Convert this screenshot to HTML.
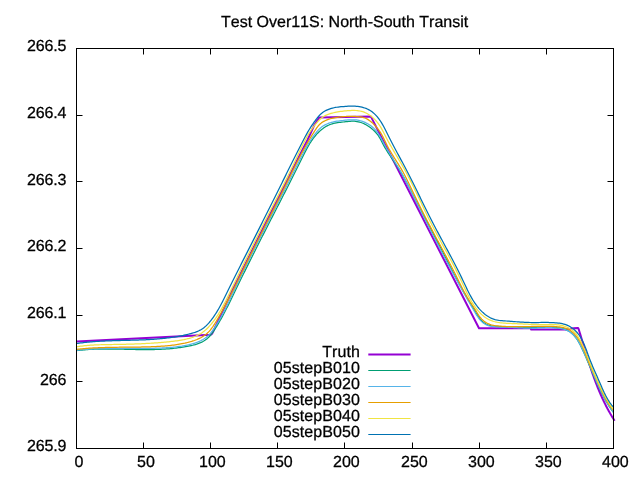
<!DOCTYPE html>
<html lang="en"><head><meta charset="utf-8"><title>Test Over11S: North-South Transit</title>
<style>html,body{margin:0;padding:0;background:#fff;overflow:hidden}body{width:640px;height:480px}</style></head>
<body>
<svg width="640" height="480" viewBox="0 0 640 480" style="display:block">
<rect width="640" height="480" fill="#fff"/>
<path d="M143.50,448.50v-6 M143.50,48.50v6 M210.50,448.50v-6 M210.50,48.50v6 M277.50,448.50v-6 M277.50,48.50v6 M344.50,448.50v-6 M344.50,48.50v6 M412.50,448.50v-6 M412.50,48.50v6 M479.50,448.50v-6 M479.50,48.50v6 M546.50,448.50v-6 M546.50,48.50v6 M76.50,115.50h6 M613.50,115.50h-6 M76.50,181.50h6 M613.50,181.50h-6 M76.50,248.50h6 M613.50,248.50h-6 M76.50,315.50h6 M613.50,315.50h-6 M76.50,381.50h6 M613.50,381.50h-6" stroke="#000" stroke-width="1" fill="none"/>
<g fill="none" stroke-linejoin="round" stroke-linecap="butt">
<path d="M76.50,341.60 L210.75,334.80 L212.30,333.40 L213.90,329.90 L232.50,290.00 L267.15,220.00 L297.30,160.00 L307.50,140.00 L314.30,125.00 L319.30,117.40 L370.80,116.40 L479.00,328.30 L530.60,328.30 L531.20,329.50 L567.00,329.50 L573.50,328.30 L578.10,327.90 L578.66,329.06 L579.02,330.27 L579.39,331.48 L579.76,332.69 L580.12,333.90 L580.49,335.11 L580.85,336.32 L581.21,337.53 L581.58,338.74 L581.94,339.96 L582.30,341.17 L582.66,342.38 L583.03,343.60 L583.39,344.81 L583.75,346.03 L584.12,347.24 L584.48,348.45 L584.85,349.67 L585.22,350.88 L585.59,352.09 L585.96,353.31 L586.33,354.52 L586.70,355.73 L587.08,356.94 L587.46,358.15 L587.83,359.36 L588.22,360.57 L588.60,361.78 L588.99,362.99 L589.37,364.19 L589.77,365.40 L590.16,366.60 L590.56,367.81 L590.96,369.01 L591.36,370.21 L591.77,371.41 L592.18,372.61 L592.60,373.81 L593.02,375.00 L593.44,376.19 L593.87,377.39 L594.30,378.58 L594.74,379.76 L595.18,380.95 L595.62,382.13 L596.07,383.32 L596.53,384.50 L596.99,385.67 L597.46,386.85 L597.93,388.02 L598.40,389.20 L598.89,390.36 L599.38,391.53 L599.87,392.69 L600.37,393.85 L600.88,395.01 L601.39,396.17 L601.91,397.32 L602.44,398.47 L602.98,399.62 L603.52,400.76 L604.06,401.90 L604.62,403.04 L605.18,404.18 L605.75,405.31 L606.33,406.44 L606.92,407.56 L607.51,408.68 L608.12,409.80 L608.73,410.91 L609.35,412.02 L609.97,413.13 L610.61,414.23 L611.25,415.33 L611.91,416.42 L612.57,417.51 L613.24,418.60 L613.93,419.68 L614.62,420.76" stroke="#9400d3" stroke-width="2"/>
<path d="M76.49,350.65 L77.88,350.47 L79.27,350.31 L80.65,350.16 L82.04,350.03 L83.42,349.90 L84.80,349.78 L86.19,349.68 L87.57,349.58 L88.94,349.49 L90.32,349.41 L91.70,349.34 L93.08,349.28 L94.45,349.22 L95.83,349.18 L97.21,349.14 L98.59,349.10 L99.96,349.08 L101.34,349.05 L102.72,349.04 L104.10,349.03 L105.48,349.02 L106.87,349.02 L108.25,349.02 L109.64,349.03 L111.02,349.04 L112.41,349.05 L113.80,349.07 L115.19,349.09 L116.57,349.11 L117.96,349.14 L119.35,349.16 L120.74,349.19 L122.14,349.22 L123.53,349.25 L124.92,349.28 L126.31,349.31 L127.70,349.34 L129.09,349.37 L130.48,349.40 L131.88,349.43 L133.27,349.46 L134.66,349.48 L136.05,349.51 L137.44,349.53 L138.83,349.55 L140.22,349.57 L141.61,349.58 L142.99,349.59 L144.38,349.60 L145.77,349.60 L147.15,349.60 L148.54,349.59 L149.92,349.58 L151.30,349.57 L152.68,349.55 L154.06,349.52 L155.44,349.49 L156.82,349.45 L158.19,349.41 L159.57,349.35 L160.94,349.30 L162.31,349.23 L163.68,349.15 L165.05,349.07 L166.42,348.98 L167.79,348.88 L169.16,348.77 L170.53,348.66 L171.90,348.53 L173.27,348.39 L174.64,348.25 L176.01,348.09 L177.38,347.92 L178.76,347.74 L180.13,347.55 L181.51,347.35 L182.89,347.14 L184.27,346.91 L185.66,346.68 L187.04,346.43 L188.43,346.16 L189.82,345.88 L191.21,345.58 L192.59,345.26 L193.95,344.91 L195.31,344.54 L196.65,344.13 L197.97,343.68 L199.26,343.19 L200.53,342.66 L201.77,342.09 L202.97,341.47 L204.15,340.79 L205.28,340.06 L206.37,339.26 L207.41,338.41 L208.41,337.50 L209.37,336.53 L210.29,335.51 L211.17,334.46 L212.03,333.36 L212.85,332.23 L213.66,331.08 L214.44,329.91 L215.20,328.72 L215.96,327.53 L216.70,326.33 L217.43,325.13 L218.15,323.93 L218.86,322.72 L219.56,321.52 L220.25,320.31 L220.93,319.09 L221.61,317.88 L222.28,316.66 L222.94,315.44 L223.59,314.22 L224.24,313.00 L224.88,311.77 L225.52,310.55 L226.15,309.32 L226.78,308.09 L227.40,306.86 L228.02,305.63 L228.63,304.39 L229.24,303.16 L229.85,301.92 L230.46,300.68 L231.06,299.45 L231.66,298.21 L232.26,296.97 L232.86,295.73 L233.46,294.49 L234.06,293.24 L234.66,292.00 L235.25,290.76 L235.85,289.52 L236.46,288.27 L237.06,287.03 L237.66,285.79 L238.27,284.54 L238.87,283.30 L239.48,282.06 L240.09,280.81 L240.69,279.57 L241.30,278.32 L241.91,277.08 L242.53,275.83 L243.14,274.59 L243.75,273.34 L244.37,272.10 L244.98,270.86 L245.60,269.61 L246.21,268.37 L246.83,267.12 L247.45,265.88 L248.07,264.63 L248.69,263.39 L249.31,262.15 L249.93,260.90 L250.55,259.66 L251.17,258.42 L251.79,257.17 L252.42,255.93 L253.04,254.69 L253.67,253.44 L254.29,252.20 L254.92,250.96 L255.54,249.72 L256.17,248.48 L256.79,247.24 L257.42,246.00 L258.05,244.76 L258.68,243.52 L259.30,242.28 L259.93,241.04 L260.56,239.80 L261.19,238.56 L261.82,237.32 L262.45,236.09 L263.08,234.85 L263.71,233.61 L264.34,232.38 L264.97,231.14 L265.60,229.91 L266.23,228.68 L266.86,227.44 L267.49,226.21 L268.12,224.98 L268.75,223.75 L269.38,222.52 L270.01,221.29 L270.64,220.06 L271.27,218.83 L271.90,217.60 L272.53,216.38 L273.16,215.15 L273.79,213.93 L274.42,212.70 L275.05,211.48 L275.68,210.25 L276.31,209.03 L276.94,207.80 L277.56,206.58 L278.19,205.35 L278.82,204.13 L279.45,202.91 L280.08,201.68 L280.71,200.46 L281.34,199.23 L281.96,198.01 L282.59,196.78 L283.22,195.56 L283.85,194.33 L284.47,193.10 L285.10,191.87 L285.73,190.64 L286.36,189.41 L286.98,188.18 L287.61,186.95 L288.24,185.72 L288.86,184.49 L289.49,183.25 L290.12,182.02 L290.74,180.78 L291.37,179.54 L291.99,178.30 L292.62,177.06 L293.25,175.82 L293.87,174.57 L294.50,173.33 L295.12,172.08 L295.75,170.83 L296.37,169.58 L297.00,168.32 L297.62,167.07 L298.24,165.81 L298.87,164.55 L299.49,163.29 L300.12,162.02 L300.74,160.76 L301.36,159.49 L301.99,158.22 L302.61,156.95 L303.24,155.67 L303.87,154.41 L304.51,153.14 L305.15,151.88 L305.81,150.62 L306.47,149.38 L307.14,148.14 L307.82,146.91 L308.52,145.69 L309.23,144.49 L309.95,143.30 L310.70,142.12 L311.46,140.96 L312.24,139.83 L313.04,138.71 L313.86,137.61 L314.71,136.53 L315.58,135.48 L316.48,134.45 L317.40,133.44 L318.35,132.47 L319.33,131.52 L320.35,130.61 L321.39,129.73 L322.47,128.88 L323.58,128.06 L324.73,127.29 L325.90,126.56 L327.11,125.88 L328.35,125.26 L329.62,124.71 L330.91,124.23 L332.23,123.81 L333.56,123.46 L334.91,123.15 L336.27,122.89 L337.63,122.67 L339.00,122.47 L340.38,122.30 L341.76,122.15 L343.15,122.00 L344.54,121.86 L345.93,121.70 L347.33,121.55 L348.73,121.42 L350.12,121.30 L351.51,121.23 L352.90,121.20 L354.28,121.23 L355.64,121.34 L357.00,121.52 L358.34,121.79 L359.67,122.12 L360.98,122.52 L362.27,122.99 L363.54,123.52 L364.79,124.11 L366.02,124.75 L367.23,125.44 L368.41,126.19 L369.56,126.98 L370.69,127.81 L371.78,128.68 L372.84,129.59 L373.87,130.53 L374.86,131.50 L375.81,132.50 L376.71,133.55 L377.57,134.63 L378.37,135.74 L379.11,136.89 L379.82,138.07 L380.49,139.28 L381.15,140.50 L381.78,141.73 L382.41,142.96 L383.05,144.19 L383.70,145.42 L384.37,146.63 L385.05,147.83 L385.76,149.03 L386.47,150.21 L387.20,151.39 L387.94,152.56 L388.70,153.72 L389.46,154.88 L390.22,156.03 L391.00,157.18 L391.78,158.33 L392.56,159.48 L393.34,160.62 L394.12,161.77 L394.90,162.92 L395.68,164.06 L396.45,165.22 L397.22,166.37 L397.97,167.53 L398.72,168.69 L399.46,169.87 L400.19,171.04 L400.91,172.23 L401.61,173.42 L402.31,174.62 L402.99,175.82 L403.67,177.03 L404.34,178.24 L405.00,179.46 L405.65,180.68 L406.30,181.91 L406.94,183.14 L407.58,184.37 L408.22,185.60 L408.85,186.84 L409.47,188.07 L410.10,189.31 L410.72,190.55 L411.35,191.79 L411.97,193.03 L412.59,194.27 L413.22,195.51 L413.85,196.74 L414.48,197.98 L415.11,199.21 L415.74,200.45 L416.37,201.68 L417.01,202.91 L417.64,204.14 L418.28,205.37 L418.92,206.60 L419.56,207.83 L420.20,209.06 L420.84,210.28 L421.48,211.51 L422.12,212.74 L422.77,213.96 L423.41,215.19 L424.06,216.41 L424.70,217.64 L425.35,218.86 L426.00,220.08 L426.64,221.31 L427.29,222.53 L427.94,223.75 L428.58,224.98 L429.23,226.20 L429.88,227.42 L430.53,228.65 L431.17,229.87 L431.82,231.10 L432.47,232.32 L433.11,233.54 L433.76,234.77 L434.40,235.99 L435.05,237.22 L435.69,238.45 L436.34,239.67 L436.98,240.90 L437.62,242.13 L438.26,243.36 L438.90,244.58 L439.54,245.81 L440.18,247.05 L440.81,248.28 L441.45,249.51 L442.08,250.74 L442.71,251.98 L443.34,253.21 L443.97,254.45 L444.60,255.69 L445.23,256.92 L445.86,258.16 L446.49,259.40 L447.12,260.63 L447.75,261.87 L448.37,263.11 L449.00,264.35 L449.63,265.58 L450.26,266.82 L450.89,268.06 L451.52,269.29 L452.16,270.53 L452.79,271.76 L453.43,272.99 L454.06,274.22 L454.70,275.45 L455.34,276.68 L455.98,277.91 L456.63,279.14 L457.28,280.36 L457.93,281.58 L458.58,282.80 L459.24,284.02 L459.90,285.24 L460.56,286.45 L461.22,287.66 L461.89,288.87 L462.57,290.08 L463.24,291.28 L463.92,292.48 L464.61,293.68 L465.30,294.88 L465.99,296.07 L466.69,297.26 L467.39,298.44 L468.10,299.63 L468.82,300.80 L469.53,301.98 L470.26,303.15 L470.98,304.33 L471.71,305.51 L472.43,306.69 L473.16,307.87 L473.89,309.07 L474.61,310.27 L475.33,311.48 L476.05,312.70 L476.78,313.92 L477.51,315.13 L478.27,316.33 L479.05,317.49 L479.87,318.62 L480.74,319.69 L481.66,320.70 L482.64,321.64 L483.69,322.50 L484.80,323.28 L485.96,323.96 L487.19,324.55 L488.46,325.03 L489.78,325.43 L491.13,325.75 L492.50,326.00 L493.89,326.20 L495.28,326.35 L496.67,326.47 L498.07,326.56 L499.46,326.62 L500.86,326.66 L502.25,326.69 L503.64,326.72 L505.04,326.74 L506.43,326.77 L507.82,326.80 L509.21,326.85 L510.60,326.90 L511.99,326.96 L513.37,327.02 L514.76,327.09 L516.14,327.16 L517.53,327.23 L518.91,327.29 L520.30,327.36 L521.68,327.42 L523.06,327.48 L524.44,327.53 L525.82,327.57 L527.20,327.60 L528.58,327.62 L529.96,327.63 L531.34,327.63 L532.72,327.62 L534.09,327.60 L535.47,327.57 L536.85,327.53 L538.23,327.49 L539.61,327.45 L540.99,327.42 L542.38,327.38 L543.76,327.35 L545.14,327.33 L546.53,327.32 L547.92,327.31 L549.30,327.33 L550.69,327.35 L552.09,327.40 L553.48,327.46 L554.88,327.55 L556.27,327.66 L557.67,327.80 L559.06,327.98 L560.44,328.20 L561.80,328.47 L563.14,328.80 L564.46,329.20 L565.74,329.66 L566.99,330.21 L568.21,330.84 L569.37,331.56 L570.50,332.35 L571.58,333.21 L572.62,334.14 L573.61,335.12 L574.56,336.16 L575.46,337.24 L576.31,338.35 L577.11,339.50 L577.86,340.67 L578.57,341.87 L579.24,343.08 L579.88,344.30 L580.50,345.54 L581.10,346.79 L581.69,348.04 L582.28,349.30 L582.86,350.55 L583.43,351.81 L584.00,353.07 L584.57,354.33 L585.14,355.59 L585.70,356.86 L586.26,358.12 L586.82,359.39 L587.37,360.66 L587.93,361.93 L588.48,363.20 L589.03,364.47 L589.57,365.74 L590.12,367.02 L590.66,368.29 L591.20,369.56 L591.75,370.84 L592.29,372.12 L592.83,373.39 L593.37,374.67 L593.91,375.95 L594.46,377.22 L595.00,378.50 L595.55,379.77 L596.10,381.04 L596.66,382.31 L597.22,383.58 L597.79,384.85 L598.36,386.11 L598.94,387.37 L599.52,388.62 L600.11,389.87 L600.71,391.12 L601.32,392.37 L601.94,393.60 L602.56,394.84 L603.20,396.06 L603.85,397.29 L604.51,398.50 L605.18,399.71 L605.86,400.91 L606.55,402.11 L607.26,403.30 L607.99,404.48 L608.73,405.65 L609.48,406.82 L610.25,407.97 L611.03,409.12 L611.84,410.26 L612.66,411.39 L613.49,412.50" stroke="#009e73" stroke-width="1.25"/>
<path d="M76.51,350.27 L77.89,350.12 L79.27,349.97 L80.65,349.84 L82.03,349.71 L83.41,349.60 L84.79,349.48 L86.17,349.38 L87.55,349.28 L88.94,349.19 L90.32,349.11 L91.71,349.03 L93.09,348.96 L94.48,348.89 L95.86,348.83 L97.25,348.77 L98.64,348.72 L100.03,348.68 L101.41,348.64 L102.80,348.60 L104.19,348.57 L105.58,348.54 L106.97,348.51 L108.36,348.49 L109.75,348.47 L111.14,348.46 L112.54,348.44 L113.93,348.43 L115.32,348.43 L116.71,348.42 L118.10,348.42 L119.49,348.42 L120.88,348.42 L122.28,348.42 L123.67,348.42 L125.06,348.42 L126.45,348.43 L127.84,348.43 L129.23,348.43 L130.63,348.44 L132.02,348.44 L133.41,348.44 L134.80,348.44 L136.19,348.45 L137.58,348.45 L138.97,348.44 L140.36,348.44 L141.75,348.43 L143.14,348.43 L144.53,348.42 L145.91,348.40 L147.30,348.39 L148.69,348.37 L150.07,348.35 L151.46,348.32 L152.85,348.29 L154.23,348.26 L155.61,348.22 L157.00,348.18 L158.38,348.14 L159.76,348.09 L161.14,348.03 L162.52,347.97 L163.90,347.90 L165.28,347.82 L166.66,347.73 L168.04,347.64 L169.42,347.53 L170.79,347.42 L172.17,347.30 L173.55,347.16 L174.93,347.01 L176.30,346.85 L177.68,346.68 L179.05,346.49 L180.43,346.29 L181.81,346.08 L183.18,345.84 L184.56,345.59 L185.94,345.33 L187.31,345.05 L188.69,344.74 L190.06,344.42 L191.43,344.07 L192.79,343.70 L194.13,343.30 L195.47,342.87 L196.78,342.40 L198.08,341.90 L199.35,341.36 L200.60,340.78 L201.82,340.16 L203.01,339.48 L204.17,338.77 L205.29,338.00 L206.38,337.17 L207.42,336.29 L208.42,335.36 L209.38,334.38 L210.31,333.36 L211.21,332.29 L212.08,331.20 L212.92,330.07 L213.73,328.93 L214.53,327.76 L215.31,326.58 L216.07,325.40 L216.82,324.20 L217.56,323.01 L218.28,321.81 L218.99,320.60 L219.70,319.39 L220.39,318.18 L221.07,316.97 L221.74,315.75 L222.40,314.52 L223.06,313.30 L223.70,312.07 L224.34,310.84 L224.98,309.61 L225.60,308.37 L226.22,307.13 L226.84,305.89 L227.45,304.65 L228.05,303.40 L228.65,302.16 L229.25,300.91 L229.85,299.66 L230.44,298.41 L231.03,297.16 L231.62,295.91 L232.21,294.66 L232.80,293.41 L233.39,292.16 L233.98,290.91 L234.57,289.65 L235.16,288.40 L235.75,287.15 L236.35,285.90 L236.95,284.65 L237.55,283.40 L238.15,282.15 L238.75,280.90 L239.35,279.65 L239.96,278.40 L240.56,277.15 L241.17,275.90 L241.78,274.65 L242.39,273.40 L243.00,272.16 L243.61,270.91 L244.22,269.66 L244.84,268.41 L245.45,267.17 L246.07,265.92 L246.69,264.67 L247.31,263.43 L247.92,262.18 L248.55,260.94 L249.17,259.69 L249.79,258.45 L250.41,257.20 L251.03,255.96 L251.66,254.72 L252.28,253.47 L252.91,252.23 L253.54,250.99 L254.16,249.74 L254.79,248.50 L255.42,247.26 L256.05,246.02 L256.68,244.78 L257.31,243.53 L257.94,242.29 L258.57,241.05 L259.20,239.81 L259.83,238.57 L260.46,237.33 L261.09,236.09 L261.72,234.86 L262.35,233.62 L262.99,232.38 L263.62,231.14 L264.25,229.90 L264.88,228.67 L265.52,227.43 L266.15,226.19 L266.78,224.96 L267.41,223.72 L268.04,222.49 L268.68,221.25 L269.31,220.02 L269.94,218.78 L270.57,217.55 L271.20,216.31 L271.83,215.08 L272.46,213.85 L273.10,212.61 L273.73,211.38 L274.36,210.15 L274.99,208.91 L275.62,207.68 L276.25,206.45 L276.88,205.22 L277.51,203.98 L278.14,202.75 L278.77,201.52 L279.39,200.29 L280.02,199.05 L280.65,197.82 L281.28,196.59 L281.91,195.35 L282.54,194.12 L283.17,192.88 L283.80,191.65 L284.43,190.41 L285.06,189.18 L285.68,187.94 L286.31,186.71 L286.94,185.47 L287.57,184.23 L288.20,183.00 L288.83,181.76 L289.45,180.52 L290.08,179.28 L290.71,178.04 L291.34,176.80 L291.97,175.56 L292.60,174.31 L293.23,173.07 L293.85,171.83 L294.48,170.58 L295.11,169.34 L295.74,168.09 L296.37,166.84 L297.00,165.60 L297.63,164.35 L298.26,163.10 L298.88,161.84 L299.51,160.59 L300.14,159.34 L300.77,158.08 L301.40,156.83 L302.04,155.57 L302.67,154.32 L303.32,153.07 L303.96,151.83 L304.61,150.59 L305.27,149.35 L305.94,148.12 L306.62,146.90 L307.31,145.68 L308.01,144.47 L308.72,143.27 L309.44,142.09 L310.17,140.91 L310.93,139.74 L311.69,138.59 L312.48,137.45 L313.28,136.32 L314.10,135.21 L314.94,134.12 L315.80,133.04 L316.68,131.98 L317.58,130.94 L318.51,129.92 L319.46,128.92 L320.47,127.99 L321.54,127.11 L322.66,126.31 L323.83,125.57 L325.04,124.89 L326.28,124.27 L327.56,123.71 L328.86,123.20 L330.18,122.76 L331.51,122.36 L332.85,122.02 L334.20,121.71 L335.57,121.45 L336.94,121.22 L338.31,121.02 L339.70,120.84 L341.08,120.67 L342.47,120.52 L343.86,120.38 L345.25,120.24 L346.64,120.11 L348.03,119.98 L349.42,119.87 L350.81,119.79 L352.19,119.75 L353.58,119.76 L354.96,119.83 L356.33,119.96 L357.71,120.17 L359.07,120.43 L360.42,120.76 L361.76,121.16 L363.08,121.61 L364.38,122.12 L365.65,122.69 L366.90,123.32 L368.12,124.00 L369.31,124.73 L370.46,125.51 L371.57,126.34 L372.64,127.22 L373.67,128.15 L374.65,129.12 L375.58,130.14 L376.46,131.19 L377.30,132.28 L378.09,133.41 L378.86,134.56 L379.59,135.74 L380.30,136.93 L380.98,138.15 L381.65,139.37 L382.31,140.61 L382.97,141.85 L383.62,143.09 L384.28,144.33 L384.95,145.56 L385.63,146.78 L386.32,147.99 L387.02,149.20 L387.72,150.40 L388.44,151.60 L389.16,152.78 L389.88,153.97 L390.61,155.15 L391.34,156.33 L392.08,157.50 L392.82,158.68 L393.55,159.85 L394.29,161.02 L395.03,162.19 L395.76,163.36 L396.49,164.54 L397.22,165.71 L397.94,166.89 L398.65,168.07 L399.36,169.26 L400.06,170.45 L400.75,171.65 L401.44,172.85 L402.11,174.06 L402.78,175.27 L403.45,176.49 L404.10,177.71 L404.75,178.93 L405.40,180.16 L406.04,181.39 L406.67,182.62 L407.31,183.86 L407.93,185.10 L408.56,186.34 L409.18,187.58 L409.80,188.82 L410.42,190.07 L411.04,191.31 L411.65,192.56 L412.27,193.80 L412.88,195.05 L413.50,196.30 L414.11,197.54 L414.73,198.79 L415.35,200.04 L415.97,201.28 L416.58,202.53 L417.20,203.77 L417.82,205.02 L418.44,206.26 L419.06,207.51 L419.68,208.75 L420.30,210.00 L420.92,211.24 L421.54,212.48 L422.16,213.73 L422.78,214.97 L423.41,216.21 L424.03,217.46 L424.65,218.70 L425.28,219.94 L425.90,221.18 L426.53,222.42 L427.16,223.67 L427.78,224.91 L428.41,226.15 L429.04,227.39 L429.67,228.63 L430.30,229.87 L430.93,231.10 L431.56,232.34 L432.19,233.58 L432.82,234.82 L433.45,236.06 L434.09,237.29 L434.72,238.53 L435.36,239.77 L435.99,241.00 L436.63,242.24 L437.27,243.47 L437.90,244.71 L438.54,245.94 L439.18,247.17 L439.82,248.41 L440.46,249.64 L441.10,250.87 L441.75,252.10 L442.39,253.33 L443.04,254.56 L443.68,255.79 L444.33,257.02 L444.97,258.25 L445.62,259.48 L446.27,260.70 L446.92,261.93 L447.57,263.16 L448.22,264.38 L448.88,265.61 L449.53,266.83 L450.18,268.06 L450.84,269.28 L451.50,270.50 L452.15,271.72 L452.81,272.95 L453.47,274.17 L454.13,275.39 L454.79,276.61 L455.46,277.82 L456.12,279.04 L456.79,280.26 L457.45,281.48 L458.12,282.69 L458.79,283.91 L459.46,285.12 L460.13,286.33 L460.80,287.55 L461.47,288.76 L462.15,289.97 L462.82,291.18 L463.50,292.39 L464.17,293.60 L464.85,294.81 L465.53,296.01 L466.21,297.22 L466.90,298.43 L467.58,299.63 L468.27,300.83 L468.95,302.04 L469.64,303.24 L470.33,304.44 L471.03,305.65 L471.72,306.85 L472.42,308.06 L473.13,309.27 L473.84,310.47 L474.55,311.69 L475.27,312.90 L476.00,314.11 L476.75,315.31 L477.51,316.49 L478.31,317.65 L479.14,318.77 L480.01,319.85 L480.93,320.88 L481.91,321.86 L482.94,322.76 L484.03,323.58 L485.18,324.31 L486.39,324.92 L487.67,325.42 L488.99,325.81 L490.35,326.11 L491.74,326.35 L493.14,326.53 L494.54,326.67 L495.94,326.79 L497.33,326.88 L498.73,326.96 L500.12,327.02 L501.51,327.07 L502.89,327.12 L504.28,327.16 L505.67,327.20 L507.05,327.25 L508.44,327.31 L509.83,327.37 L511.22,327.44 L512.61,327.50 L514.00,327.57 L515.39,327.65 L516.78,327.72 L518.17,327.78 L519.55,327.85 L520.94,327.91 L522.33,327.97 L523.72,328.02 L525.11,328.06 L526.50,328.09 L527.88,328.12 L529.27,328.13 L530.66,328.12 L532.04,328.11 L533.42,328.09 L534.81,328.05 L536.19,328.01 L537.57,327.97 L538.95,327.93 L540.34,327.88 L541.72,327.83 L543.11,327.79 L544.49,327.76 L545.88,327.73 L547.27,327.71 L548.66,327.70 L550.05,327.70 L551.44,327.72 L552.84,327.76 L554.24,327.82 L555.64,327.90 L557.04,328.00 L558.44,328.14 L559.83,328.32 L561.21,328.54 L562.57,328.83 L563.90,329.17 L565.21,329.59 L566.49,330.08 L567.73,330.66 L568.92,331.34 L570.08,332.09 L571.20,332.92 L572.27,333.82 L573.29,334.78 L574.27,335.79 L575.20,336.85 L576.08,337.95 L576.91,339.09 L577.69,340.24 L578.43,341.43 L579.12,342.63 L579.78,343.84 L580.42,345.07 L581.03,346.31 L581.63,347.56 L582.23,348.81 L582.81,350.06 L583.40,351.32 L583.97,352.58 L584.55,353.84 L585.12,355.11 L585.69,356.37 L586.25,357.64 L586.81,358.91 L587.37,360.19 L587.92,361.46 L588.47,362.73 L589.02,364.01 L589.57,365.29 L590.12,366.57 L590.66,367.85 L591.20,369.13 L591.75,370.41 L592.29,371.69 L592.83,372.97 L593.37,374.25 L593.92,375.53 L594.46,376.81 L595.01,378.09 L595.56,379.36 L596.11,380.64 L596.67,381.91 L597.23,383.18 L597.80,384.45 L598.37,385.72 L598.95,386.98 L599.53,388.24 L600.12,389.49 L600.72,390.74 L601.33,391.99 L601.95,393.23 L602.58,394.46 L603.21,395.69 L603.86,396.92 L604.52,398.14 L605.19,399.35 L605.87,400.56 L606.57,401.76 L607.28,402.95 L608.00,404.14 L608.74,405.32 L609.49,406.49 L610.26,407.65 L611.04,408.80 L611.84,409.94 L612.66,411.08 L613.49,412.20" stroke="#56b4e9" stroke-width="1.25"/>
<path d="M76.51,349.40 L77.89,349.24 L79.27,349.09 L80.65,348.94 L82.04,348.81 L83.42,348.68 L84.80,348.56 L86.19,348.45 L87.57,348.34 L88.96,348.24 L90.35,348.15 L91.74,348.06 L93.13,347.98 L94.52,347.90 L95.91,347.83 L97.30,347.77 L98.69,347.71 L100.08,347.65 L101.47,347.60 L102.86,347.56 L104.26,347.51 L105.65,347.47 L107.05,347.44 L108.44,347.41 L109.84,347.38 L111.23,347.35 L112.63,347.33 L114.02,347.31 L115.42,347.29 L116.81,347.27 L118.21,347.25 L119.60,347.24 L121.00,347.23 L122.40,347.21 L123.79,347.20 L125.19,347.19 L126.59,347.18 L127.98,347.17 L129.38,347.16 L130.77,347.14 L132.17,347.13 L133.56,347.12 L134.96,347.10 L136.35,347.08 L137.75,347.06 L139.14,347.04 L140.54,347.02 L141.93,346.99 L143.32,346.97 L144.71,346.93 L146.11,346.90 L147.50,346.86 L148.89,346.82 L150.28,346.77 L151.67,346.72 L153.06,346.67 L154.44,346.61 L155.83,346.55 L157.22,346.48 L158.60,346.40 L159.99,346.32 L161.37,346.24 L162.76,346.14 L164.14,346.04 L165.52,345.93 L166.90,345.81 L168.28,345.69 L169.66,345.55 L171.04,345.40 L172.42,345.23 L173.80,345.06 L175.18,344.87 L176.56,344.67 L177.93,344.46 L179.31,344.23 L180.68,343.98 L182.06,343.72 L183.43,343.44 L184.81,343.15 L186.18,342.83 L187.55,342.50 L188.92,342.15 L190.29,341.77 L191.65,341.38 L193.00,340.95 L194.34,340.50 L195.66,340.01 L196.97,339.50 L198.25,338.94 L199.51,338.36 L200.74,337.73 L201.95,337.06 L203.12,336.35 L204.26,335.60 L205.36,334.80 L206.42,333.95 L207.43,333.05 L208.41,332.10 L209.35,331.10 L210.25,330.06 L211.11,328.99 L211.95,327.88 L212.76,326.75 L213.55,325.59 L214.32,324.41 L215.07,323.21 L215.81,322.00 L216.54,320.79 L217.26,319.57 L217.98,318.34 L218.69,317.12 L219.39,315.90 L220.09,314.67 L220.79,313.45 L221.48,312.22 L222.16,310.99 L222.84,309.76 L223.52,308.53 L224.19,307.30 L224.86,306.07 L225.53,304.84 L226.19,303.61 L226.84,302.37 L227.50,301.14 L228.15,299.90 L228.80,298.66 L229.44,297.43 L230.08,296.19 L230.72,294.95 L231.35,293.71 L231.99,292.47 L232.62,291.23 L233.25,289.99 L233.87,288.75 L234.50,287.51 L235.12,286.27 L235.74,285.03 L236.36,283.78 L236.97,282.54 L237.59,281.30 L238.20,280.05 L238.82,278.81 L239.43,277.56 L240.04,276.32 L240.65,275.07 L241.26,273.83 L241.87,272.58 L242.48,271.34 L243.08,270.09 L243.69,268.85 L244.30,267.60 L244.91,266.35 L245.52,265.11 L246.13,263.86 L246.74,262.62 L247.35,261.37 L247.96,260.13 L248.57,258.88 L249.18,257.64 L249.80,256.39 L250.41,255.15 L251.03,253.90 L251.65,252.66 L252.27,251.41 L252.89,250.17 L253.51,248.93 L254.13,247.68 L254.76,246.44 L255.39,245.19 L256.01,243.95 L256.64,242.71 L257.27,241.47 L257.90,240.22 L258.53,238.98 L259.16,237.74 L259.79,236.49 L260.42,235.25 L261.06,234.01 L261.69,232.77 L262.32,231.52 L262.96,230.28 L263.59,229.04 L264.23,227.80 L264.86,226.55 L265.50,225.31 L266.13,224.07 L266.77,222.82 L267.40,221.58 L268.04,220.34 L268.67,219.09 L269.31,217.85 L269.94,216.61 L270.58,215.36 L271.21,214.12 L271.85,212.87 L272.48,211.63 L273.11,210.38 L273.75,209.14 L274.38,207.89 L275.01,206.65 L275.64,205.40 L276.27,204.16 L276.90,202.91 L277.53,201.66 L278.16,200.41 L278.78,199.17 L279.41,197.92 L280.03,196.67 L280.66,195.42 L281.28,194.17 L281.90,192.92 L282.52,191.67 L283.14,190.42 L283.75,189.17 L284.37,187.92 L284.98,186.67 L285.60,185.41 L286.21,184.16 L286.82,182.91 L287.43,181.66 L288.04,180.40 L288.65,179.15 L289.27,177.90 L289.88,176.65 L290.49,175.40 L291.10,174.15 L291.72,172.90 L292.33,171.65 L292.95,170.40 L293.56,169.15 L294.18,167.91 L294.80,166.66 L295.43,165.42 L296.05,164.17 L296.68,162.93 L297.31,161.69 L297.94,160.45 L298.58,159.22 L299.21,157.98 L299.86,156.75 L300.50,155.52 L301.15,154.29 L301.80,153.06 L302.46,151.83 L303.12,150.61 L303.78,149.39 L304.45,148.17 L305.13,146.96 L305.80,145.74 L306.49,144.53 L307.18,143.32 L307.87,142.12 L308.57,140.92 L309.28,139.72 L309.99,138.52 L310.71,137.33 L311.43,136.14 L312.16,134.95 L312.90,133.77 L313.64,132.59 L314.39,131.42 L315.15,130.25 L315.92,129.08 L316.70,127.93 L317.53,126.80 L318.40,125.72 L319.33,124.70 L320.35,123.75 L321.45,122.87 L322.62,122.07 L323.84,121.35 L325.09,120.70 L326.38,120.12 L327.68,119.60 L329.00,119.15 L330.34,118.75 L331.70,118.40 L333.06,118.09 L334.43,117.81 L335.80,117.56 L337.17,117.34 L338.55,117.14 L339.92,116.97 L341.30,116.82 L342.68,116.69 L344.07,116.58 L345.46,116.50 L346.85,116.43 L348.24,116.39 L349.63,116.37 L351.03,116.36 L352.43,116.38 L353.83,116.41 L355.24,116.46 L356.64,116.53 L358.05,116.63 L359.44,116.77 L360.82,116.97 L362.18,117.23 L363.51,117.57 L364.81,118.00 L366.08,118.53 L367.30,119.15 L368.49,119.86 L369.64,120.65 L370.76,121.50 L371.84,122.41 L372.89,123.37 L373.90,124.36 L374.88,125.39 L375.83,126.43 L376.74,127.49 L377.63,128.57 L378.48,129.67 L379.29,130.78 L380.08,131.92 L380.83,133.08 L381.55,134.26 L382.23,135.46 L382.89,136.69 L383.52,137.93 L384.13,139.18 L384.73,140.44 L385.33,141.71 L385.93,142.97 L386.54,144.23 L387.16,145.49 L387.80,146.73 L388.46,147.96 L389.13,149.18 L389.82,150.39 L390.52,151.60 L391.23,152.80 L391.95,153.99 L392.68,155.18 L393.41,156.37 L394.15,157.55 L394.90,158.73 L395.64,159.90 L396.39,161.08 L397.13,162.26 L397.87,163.44 L398.61,164.62 L399.35,165.80 L400.07,166.99 L400.79,168.18 L401.50,169.38 L402.19,170.59 L402.88,171.80 L403.55,173.01 L404.21,174.24 L404.87,175.47 L405.51,176.70 L406.15,177.94 L406.78,179.18 L407.40,180.43 L408.02,181.67 L408.63,182.93 L409.24,184.18 L409.84,185.44 L410.44,186.70 L411.04,187.96 L411.64,189.22 L412.23,190.48 L412.83,191.74 L413.42,193.00 L414.02,194.27 L414.62,195.53 L415.22,196.78 L415.83,198.04 L416.43,199.30 L417.04,200.55 L417.65,201.80 L418.27,203.06 L418.88,204.31 L419.50,205.56 L420.12,206.81 L420.74,208.05 L421.37,209.30 L421.99,210.54 L422.62,211.79 L423.25,213.03 L423.88,214.27 L424.52,215.51 L425.15,216.75 L425.79,217.99 L426.43,219.23 L427.07,220.47 L427.71,221.71 L428.36,222.94 L429.00,224.18 L429.65,225.41 L430.29,226.64 L430.94,227.87 L431.59,229.11 L432.24,230.34 L432.89,231.57 L433.55,232.80 L434.20,234.03 L434.85,235.26 L435.51,236.49 L436.16,237.72 L436.82,238.95 L437.47,240.18 L438.13,241.40 L438.78,242.63 L439.44,243.86 L440.09,245.09 L440.75,246.32 L441.41,247.55 L442.06,248.78 L442.72,250.01 L443.37,251.24 L444.02,252.47 L444.68,253.70 L445.33,254.93 L445.98,256.16 L446.63,257.39 L447.28,258.62 L447.93,259.86 L448.58,261.09 L449.22,262.32 L449.87,263.56 L450.51,264.80 L451.16,266.03 L451.80,267.27 L452.44,268.51 L453.07,269.75 L453.71,270.99 L454.34,272.23 L454.98,273.48 L455.61,274.72 L456.23,275.97 L456.86,277.21 L457.48,278.46 L458.10,279.71 L458.72,280.96 L459.34,282.22 L459.96,283.47 L460.57,284.72 L461.19,285.97 L461.82,287.22 L462.44,288.47 L463.08,289.71 L463.72,290.95 L464.36,292.18 L465.02,293.41 L465.69,294.63 L466.37,295.84 L467.06,297.05 L467.77,298.24 L468.49,299.43 L469.23,300.60 L469.98,301.77 L470.75,302.93 L471.52,304.09 L472.29,305.24 L473.07,306.40 L473.83,307.56 L474.59,308.73 L475.34,309.91 L476.07,311.10 L476.80,312.29 L477.53,313.48 L478.28,314.66 L479.06,315.82 L479.88,316.94 L480.75,318.03 L481.69,319.08 L482.70,320.06 L483.78,320.99 L484.91,321.84 L486.09,322.61 L487.31,323.29 L488.57,323.88 L489.85,324.37 L491.17,324.79 L492.50,325.13 L493.86,325.41 L495.23,325.64 L496.61,325.83 L498.00,325.98 L499.40,326.10 L500.80,326.21 L502.19,326.30 L503.59,326.39 L504.98,326.46 L506.38,326.52 L507.77,326.57 L509.17,326.62 L510.56,326.65 L511.95,326.68 L513.35,326.70 L514.74,326.71 L516.13,326.71 L517.52,326.71 L518.92,326.71 L520.31,326.69 L521.70,326.68 L523.09,326.66 L524.48,326.63 L525.88,326.61 L527.27,326.58 L528.66,326.55 L530.05,326.52 L531.44,326.49 L532.83,326.46 L534.23,326.43 L535.62,326.40 L537.01,326.37 L538.40,326.34 L539.80,326.32 L541.19,326.30 L542.58,326.29 L543.98,326.27 L545.37,326.27 L546.76,326.27 L548.16,326.28 L549.55,326.30 L550.95,326.33 L552.34,326.38 L553.73,326.45 L555.12,326.54 L556.51,326.65 L557.90,326.79 L559.29,326.96 L560.67,327.16 L562.05,327.39 L563.43,327.67 L564.79,328.01 L566.12,328.43 L567.41,328.94 L568.67,329.55 L569.87,330.26 L571.03,331.05 L572.14,331.91 L573.19,332.83 L574.20,333.80 L575.15,334.81 L576.05,335.85 L576.90,336.93 L577.72,338.04 L578.49,339.18 L579.22,340.34 L579.91,341.53 L580.58,342.75 L581.22,343.98 L581.83,345.23 L582.41,346.50 L582.98,347.78 L583.53,349.07 L584.07,350.38 L584.59,351.68 L585.11,353.00 L585.62,354.31 L586.13,355.63 L586.64,356.95 L587.15,358.26 L587.67,359.56 L588.20,360.86 L588.74,362.15 L589.28,363.43 L589.83,364.71 L590.39,365.98 L590.95,367.25 L591.51,368.51 L592.08,369.77 L592.65,371.03 L593.23,372.29 L593.81,373.55 L594.38,374.80 L594.96,376.06 L595.54,377.32 L596.12,378.58 L596.70,379.84 L597.28,381.10 L597.85,382.37 L598.42,383.64 L598.99,384.91 L599.56,386.19 L600.14,387.47 L600.71,388.74 L601.29,390.02 L601.88,391.29 L602.48,392.56 L603.08,393.82 L603.70,395.08 L604.33,396.33 L604.98,397.57 L605.64,398.80 L606.32,400.02 L607.02,401.22 L607.74,402.42 L608.48,403.60 L609.25,404.76 L610.04,405.91 L610.86,407.03 L611.71,408.14 L612.59,409.23 L613.50,410.30" stroke="#e69f00" stroke-width="1.25"/>
<path d="M76.50,346.85 L77.89,346.63 L79.28,346.42 L80.66,346.22 L82.06,346.04 L83.45,345.88 L84.84,345.72 L86.23,345.59 L87.62,345.46 L89.02,345.34 L90.41,345.24 L91.80,345.14 L93.20,345.06 L94.59,344.98 L95.99,344.91 L97.39,344.85 L98.78,344.80 L100.18,344.75 L101.58,344.71 L102.98,344.67 L104.37,344.64 L105.77,344.61 L107.17,344.58 L108.57,344.56 L109.97,344.54 L111.37,344.52 L112.77,344.50 L114.16,344.48 L115.56,344.45 L116.96,344.43 L118.36,344.41 L119.76,344.38 L121.16,344.36 L122.56,344.33 L123.96,344.30 L125.36,344.27 L126.76,344.23 L128.16,344.20 L129.56,344.16 L130.96,344.12 L132.36,344.07 L133.75,344.03 L135.15,343.98 L136.55,343.93 L137.95,343.88 L139.35,343.82 L140.75,343.76 L142.14,343.70 L143.54,343.63 L144.94,343.56 L146.34,343.49 L147.73,343.41 L149.13,343.34 L150.53,343.25 L151.92,343.16 L153.32,343.07 L154.71,342.98 L156.11,342.88 L157.50,342.78 L158.90,342.67 L160.29,342.56 L161.68,342.44 L163.08,342.32 L164.47,342.19 L165.86,342.06 L167.25,341.93 L168.64,341.79 L170.03,341.64 L171.42,341.48 L172.81,341.32 L174.20,341.15 L175.59,340.96 L176.97,340.77 L178.36,340.56 L179.74,340.35 L181.12,340.12 L182.50,339.87 L183.88,339.61 L185.25,339.32 L186.62,339.01 L187.98,338.68 L189.34,338.32 L190.68,337.93 L192.02,337.50 L193.34,337.04 L194.66,336.54 L195.95,336.00 L197.23,335.43 L198.48,334.80 L199.71,334.14 L200.91,333.43 L202.08,332.66 L203.21,331.86 L204.31,331.00 L205.38,330.11 L206.42,329.18 L207.43,328.21 L208.42,327.22 L209.38,326.19 L210.31,325.15 L211.23,324.08 L212.12,322.99 L212.99,321.89 L213.84,320.78 L214.67,319.66 L215.48,318.52 L216.28,317.38 L217.06,316.22 L217.82,315.05 L218.57,313.87 L219.30,312.68 L220.02,311.49 L220.73,310.28 L221.42,309.07 L222.10,307.85 L222.78,306.62 L223.44,305.39 L224.09,304.15 L224.74,302.91 L225.38,301.66 L226.01,300.41 L226.64,299.15 L227.26,297.89 L227.87,296.63 L228.49,295.37 L229.10,294.10 L229.70,292.83 L230.31,291.57 L230.92,290.30 L231.52,289.03 L232.13,287.76 L232.74,286.50 L233.34,285.23 L233.95,283.97 L234.56,282.70 L235.17,281.44 L235.78,280.18 L236.39,278.91 L237.00,277.65 L237.61,276.39 L238.22,275.13 L238.83,273.86 L239.44,272.60 L240.06,271.34 L240.67,270.08 L241.28,268.82 L241.90,267.57 L242.51,266.31 L243.12,265.05 L243.74,263.79 L244.35,262.53 L244.97,261.28 L245.59,260.02 L246.20,258.76 L246.82,257.51 L247.44,256.25 L248.06,255.00 L248.68,253.74 L249.30,252.49 L249.92,251.24 L250.54,249.98 L251.16,248.73 L251.78,247.48 L252.40,246.23 L253.03,244.98 L253.65,243.72 L254.27,242.47 L254.90,241.22 L255.52,239.97 L256.15,238.72 L256.77,237.47 L257.40,236.22 L258.03,234.97 L258.66,233.73 L259.28,232.48 L259.91,231.23 L260.54,229.98 L261.17,228.73 L261.80,227.49 L262.43,226.24 L263.07,224.99 L263.70,223.75 L264.33,222.50 L264.97,221.26 L265.60,220.01 L266.24,218.77 L266.87,217.52 L267.51,216.28 L268.14,215.03 L268.78,213.79 L269.42,212.55 L270.06,211.30 L270.69,210.06 L271.33,208.81 L271.97,207.57 L272.61,206.33 L273.24,205.08 L273.88,203.84 L274.52,202.59 L275.16,201.35 L275.79,200.10 L276.43,198.86 L277.07,197.61 L277.70,196.37 L278.34,195.12 L278.97,193.87 L279.60,192.62 L280.24,191.38 L280.87,190.13 L281.50,188.88 L282.13,187.63 L282.76,186.38 L283.39,185.13 L284.01,183.88 L284.64,182.62 L285.26,181.37 L285.89,180.12 L286.51,178.86 L287.13,177.61 L287.75,176.35 L288.36,175.09 L288.98,173.83 L289.59,172.57 L290.21,171.31 L290.82,170.05 L291.42,168.79 L292.03,167.52 L292.63,166.26 L293.24,164.99 L293.83,163.72 L294.43,162.45 L295.03,161.18 L295.62,159.91 L296.21,158.64 L296.80,157.36 L297.39,156.09 L297.98,154.81 L298.57,153.54 L299.16,152.26 L299.75,150.99 L300.35,149.72 L300.95,148.46 L301.56,147.19 L302.17,145.93 L302.80,144.68 L303.43,143.43 L304.06,142.18 L304.71,140.94 L305.37,139.71 L306.04,138.48 L306.72,137.27 L307.42,136.06 L308.13,134.85 L308.85,133.66 L309.59,132.48 L310.35,131.30 L311.13,130.14 L311.92,128.98 L312.73,127.84 L313.57,126.71 L314.42,125.60 L315.30,124.49 L316.20,123.41 L317.12,122.34 L318.07,121.30 L319.06,120.30 L320.07,119.34 L321.12,118.43 L322.20,117.57 L323.33,116.77 L324.49,116.04 L325.70,115.39 L326.95,114.81 L328.23,114.29 L329.54,113.84 L330.88,113.43 L332.24,113.07 L333.61,112.75 L334.99,112.45 L336.37,112.18 L337.76,111.93 L339.14,111.70 L340.53,111.49 L341.93,111.30 L343.32,111.13 L344.72,110.98 L346.12,110.85 L347.53,110.73 L348.94,110.64 L350.35,110.55 L351.77,110.49 L353.18,110.45 L354.59,110.46 L355.99,110.50 L357.38,110.60 L358.76,110.76 L360.12,111.00 L361.46,111.32 L362.77,111.71 L364.06,112.17 L365.33,112.71 L366.57,113.31 L367.78,113.98 L368.97,114.71 L370.12,115.49 L371.25,116.33 L372.34,117.22 L373.40,118.15 L374.42,119.13 L375.41,120.15 L376.36,121.21 L377.28,122.30 L378.16,123.41 L378.99,124.56 L379.79,125.73 L380.54,126.92 L381.25,128.13 L381.93,129.35 L382.59,130.58 L383.23,131.81 L383.86,133.05 L384.49,134.30 L385.12,135.54 L385.77,136.77 L386.42,138.00 L387.07,139.23 L387.74,140.46 L388.41,141.68 L389.09,142.90 L389.77,144.11 L390.46,145.33 L391.15,146.54 L391.85,147.75 L392.55,148.96 L393.26,150.17 L393.97,151.37 L394.67,152.58 L395.39,153.78 L396.10,154.99 L396.81,156.19 L397.52,157.40 L398.23,158.60 L398.94,159.81 L399.65,161.02 L400.36,162.22 L401.06,163.44 L401.76,164.65 L402.46,165.86 L403.15,167.08 L403.84,168.30 L404.52,169.52 L405.19,170.75 L405.86,171.97 L406.53,173.21 L407.19,174.44 L407.84,175.68 L408.49,176.92 L409.13,178.16 L409.77,179.41 L410.41,180.65 L411.04,181.90 L411.66,183.16 L412.29,184.41 L412.91,185.66 L413.52,186.92 L414.14,188.18 L414.75,189.44 L415.36,190.70 L415.96,191.96 L416.57,193.22 L417.17,194.49 L417.78,195.75 L418.38,197.02 L418.98,198.28 L419.58,199.55 L420.18,200.81 L420.78,202.08 L421.38,203.34 L421.98,204.61 L422.58,205.87 L423.18,207.14 L423.78,208.40 L424.39,209.66 L425.00,210.92 L425.60,212.18 L426.21,213.44 L426.83,214.70 L427.44,215.95 L428.06,217.21 L428.68,218.46 L429.31,219.71 L429.94,220.96 L430.57,222.21 L431.21,223.45 L431.85,224.70 L432.49,225.94 L433.14,227.18 L433.79,228.42 L434.44,229.65 L435.09,230.89 L435.75,232.12 L436.40,233.35 L437.06,234.59 L437.72,235.82 L438.39,237.05 L439.05,238.28 L439.72,239.51 L440.38,240.74 L441.05,241.97 L441.72,243.19 L442.38,244.42 L443.05,245.65 L443.72,246.88 L444.39,248.11 L445.05,249.34 L445.72,250.57 L446.39,251.79 L447.05,253.03 L447.72,254.26 L448.38,255.49 L449.04,256.72 L449.70,257.95 L450.36,259.19 L451.01,260.42 L451.67,261.66 L452.32,262.90 L452.97,264.14 L453.61,265.38 L454.26,266.63 L454.90,267.87 L455.53,269.12 L456.17,270.37 L456.79,271.62 L457.42,272.88 L458.04,274.13 L458.66,275.39 L459.27,276.65 L459.88,277.92 L460.49,279.18 L461.08,280.45 L461.68,281.73 L462.27,283.00 L462.86,284.27 L463.45,285.55 L464.04,286.82 L464.63,288.10 L465.23,289.37 L465.83,290.64 L466.44,291.90 L467.05,293.16 L467.68,294.41 L468.31,295.65 L468.96,296.89 L469.62,298.12 L470.30,299.34 L470.99,300.55 L471.70,301.75 L472.43,302.94 L473.18,304.11 L473.95,305.27 L474.74,306.42 L475.56,307.55 L476.41,308.66 L477.28,309.76 L478.18,310.84 L479.11,311.90 L480.07,312.94 L481.06,313.94 L482.09,314.91 L483.16,315.84 L484.25,316.71 L485.39,317.53 L486.56,318.27 L487.77,318.96 L489.01,319.59 L490.27,320.15 L491.56,320.65 L492.86,321.10 L494.19,321.49 L495.53,321.83 L496.89,322.13 L498.26,322.38 L499.64,322.60 L501.03,322.78 L502.43,322.94 L503.84,323.06 L505.26,323.17 L506.67,323.26 L508.09,323.33 L509.52,323.39 L510.93,323.45 L512.35,323.51 L513.76,323.57 L515.17,323.63 L516.58,323.69 L517.98,323.76 L519.38,323.82 L520.77,323.89 L522.17,323.95 L523.56,324.02 L524.95,324.08 L526.34,324.14 L527.72,324.20 L529.11,324.26 L530.50,324.31 L531.88,324.36 L533.27,324.41 L534.65,324.45 L536.04,324.49 L537.43,324.52 L538.82,324.55 L540.21,324.56 L541.61,324.58 L543.01,324.58 L544.41,324.58 L545.81,324.56 L547.22,324.55 L548.62,324.53 L550.03,324.52 L551.44,324.52 L552.85,324.55 L554.26,324.59 L555.66,324.67 L557.06,324.78 L558.46,324.94 L559.85,325.14 L561.24,325.40 L562.61,325.71 L563.98,326.09 L565.32,326.53 L566.64,327.03 L567.93,327.60 L569.19,328.23 L570.40,328.92 L571.56,329.69 L572.67,330.51 L573.71,331.41 L574.70,332.38 L575.62,333.41 L576.49,334.49 L577.31,335.61 L578.08,336.78 L578.82,337.97 L579.53,339.18 L580.21,340.41 L580.87,341.65 L581.51,342.90 L582.12,344.15 L582.73,345.41 L583.31,346.68 L583.88,347.96 L584.44,349.24 L584.99,350.53 L585.52,351.82 L586.05,353.12 L586.57,354.42 L587.09,355.72 L587.61,357.02 L588.12,358.33 L588.63,359.63 L589.15,360.93 L589.66,362.24 L590.18,363.54 L590.70,364.84 L591.22,366.14 L591.75,367.44 L592.27,368.74 L592.80,370.04 L593.34,371.34 L593.88,372.63 L594.42,373.92 L594.96,375.21 L595.52,376.50 L596.07,377.78 L596.64,379.06 L597.20,380.34 L597.78,381.62 L598.36,382.89 L598.95,384.16 L599.54,385.42 L600.14,386.68 L600.75,387.94 L601.37,389.19 L602.00,390.44 L602.63,391.68 L603.28,392.92 L603.93,394.15 L604.60,395.38 L605.27,396.60 L605.96,397.82 L606.65,399.03 L607.36,400.24 L608.07,401.43 L608.80,402.63 L609.55,403.81 L610.30,404.99 L611.07,406.16 L611.84,407.32 L612.64,408.48 L613.44,409.63" stroke="#f0e442" stroke-width="1.25"/>
<path d="M76.51,343.48 L77.90,343.29 L79.29,343.10 L80.68,342.92 L82.08,342.76 L83.47,342.60 L84.87,342.44 L86.26,342.30 L87.66,342.17 L89.06,342.04 L90.45,341.92 L91.85,341.80 L93.25,341.70 L94.65,341.59 L96.05,341.50 L97.45,341.41 L98.85,341.33 L100.25,341.25 L101.65,341.17 L103.05,341.10 L104.45,341.04 L105.85,340.98 L107.25,340.92 L108.65,340.87 L110.05,340.82 L111.46,340.77 L112.86,340.72 L114.26,340.68 L115.66,340.64 L117.07,340.60 L118.47,340.56 L119.87,340.53 L121.27,340.49 L122.68,340.46 L124.08,340.42 L125.48,340.39 L126.89,340.35 L128.29,340.32 L129.69,340.28 L131.09,340.25 L132.50,340.21 L133.90,340.17 L135.30,340.13 L136.70,340.08 L138.11,340.04 L139.51,339.99 L140.91,339.94 L142.31,339.88 L143.71,339.82 L145.11,339.76 L146.51,339.69 L147.91,339.62 L149.31,339.54 L150.71,339.46 L152.11,339.37 L153.51,339.28 L154.91,339.18 L156.30,339.08 L157.70,338.97 L159.10,338.85 L160.50,338.73 L161.89,338.60 L163.29,338.46 L164.68,338.31 L166.08,338.16 L167.47,337.99 L168.86,337.82 L170.25,337.64 L171.64,337.45 L173.03,337.25 L174.42,337.03 L175.81,336.81 L177.19,336.58 L178.58,336.33 L179.96,336.08 L181.34,335.81 L182.71,335.52 L184.09,335.23 L185.46,334.92 L186.83,334.60 L188.19,334.26 L189.55,333.91 L190.91,333.54 L192.27,333.15 L193.61,332.75 L194.95,332.32 L196.27,331.85 L197.57,331.35 L198.85,330.79 L200.09,330.18 L201.30,329.51 L202.47,328.76 L203.60,327.95 L204.69,327.08 L205.74,326.15 L206.76,325.18 L207.75,324.16 L208.71,323.11 L209.64,322.02 L210.54,320.92 L211.42,319.79 L212.27,318.66 L213.11,317.51 L213.92,316.36 L214.71,315.19 L215.49,314.01 L216.25,312.83 L216.99,311.63 L217.71,310.43 L218.42,309.22 L219.12,308.01 L219.80,306.78 L220.47,305.56 L221.14,304.32 L221.79,303.08 L222.43,301.84 L223.07,300.59 L223.70,299.34 L224.32,298.08 L224.94,296.83 L225.55,295.57 L226.17,294.31 L226.78,293.05 L227.39,291.79 L228.00,290.52 L228.61,289.26 L229.23,288.00 L229.84,286.74 L230.46,285.48 L231.08,284.22 L231.70,282.97 L232.32,281.71 L232.95,280.45 L233.57,279.20 L234.20,277.94 L234.82,276.69 L235.45,275.43 L236.08,274.18 L236.71,272.92 L237.34,271.67 L237.97,270.42 L238.61,269.16 L239.24,267.91 L239.87,266.66 L240.51,265.41 L241.14,264.15 L241.78,262.90 L242.41,261.65 L243.05,260.40 L243.68,259.15 L244.32,257.90 L244.95,256.64 L245.59,255.39 L246.23,254.14 L246.86,252.89 L247.50,251.64 L248.13,250.39 L248.76,249.14 L249.40,247.89 L250.03,246.63 L250.67,245.38 L251.30,244.13 L251.93,242.88 L252.57,241.63 L253.20,240.38 L253.83,239.13 L254.47,237.87 L255.10,236.62 L255.73,235.37 L256.36,234.12 L256.99,232.87 L257.63,231.62 L258.26,230.36 L258.89,229.11 L259.52,227.86 L260.15,226.61 L260.78,225.35 L261.41,224.10 L262.04,222.85 L262.67,221.59 L263.30,220.34 L263.93,219.09 L264.56,217.83 L265.19,216.58 L265.81,215.33 L266.44,214.07 L267.07,212.82 L267.70,211.56 L268.32,210.31 L268.95,209.06 L269.58,207.80 L270.21,206.55 L270.83,205.29 L271.46,204.03 L272.08,202.78 L272.71,201.52 L273.33,200.27 L273.96,199.01 L274.58,197.75 L275.21,196.50 L275.83,195.24 L276.46,193.98 L277.08,192.73 L277.70,191.47 L278.33,190.21 L278.95,188.95 L279.57,187.69 L280.19,186.43 L280.81,185.18 L281.44,183.92 L282.06,182.66 L282.68,181.40 L283.30,180.14 L283.92,178.88 L284.54,177.62 L285.17,176.36 L285.79,175.10 L286.41,173.84 L287.03,172.58 L287.66,171.33 L288.28,170.07 L288.90,168.81 L289.53,167.55 L290.15,166.30 L290.78,165.04 L291.40,163.78 L292.03,162.53 L292.66,161.27 L293.29,160.02 L293.91,158.76 L294.54,157.51 L295.17,156.26 L295.81,155.00 L296.44,153.75 L297.07,152.50 L297.70,151.25 L298.34,150.00 L298.98,148.75 L299.61,147.51 L300.25,146.26 L300.89,145.01 L301.53,143.77 L302.18,142.53 L302.82,141.28 L303.47,140.04 L304.11,138.80 L304.76,137.57 L305.42,136.33 L306.08,135.10 L306.75,133.87 L307.43,132.65 L308.13,131.43 L308.83,130.22 L309.55,129.02 L310.29,127.82 L311.05,126.63 L311.83,125.46 L312.62,124.29 L313.43,123.12 L314.25,121.97 L315.08,120.81 L315.92,119.66 L316.78,118.53 L317.65,117.41 L318.55,116.33 L319.50,115.29 L320.48,114.32 L321.52,113.41 L322.61,112.56 L323.74,111.79 L324.91,111.07 L326.12,110.42 L327.37,109.83 L328.64,109.31 L329.95,108.84 L331.28,108.42 L332.63,108.06 L333.99,107.75 L335.38,107.48 L336.77,107.25 L338.18,107.06 L339.59,106.89 L341.01,106.74 L342.43,106.62 L343.84,106.51 L345.25,106.41 L346.66,106.32 L348.06,106.24 L349.45,106.18 L350.85,106.14 L352.24,106.13 L353.64,106.15 L355.03,106.21 L356.43,106.31 L357.84,106.46 L359.23,106.66 L360.62,106.91 L362.00,107.21 L363.36,107.56 L364.70,107.98 L366.02,108.45 L367.30,108.99 L368.55,109.59 L369.77,110.27 L370.95,111.01 L372.08,111.82 L373.17,112.69 L374.23,113.61 L375.24,114.59 L376.21,115.61 L377.15,116.67 L378.05,117.77 L378.92,118.90 L379.74,120.05 L380.54,121.23 L381.30,122.41 L382.03,123.62 L382.73,124.83 L383.41,126.06 L384.08,127.30 L384.72,128.54 L385.36,129.79 L385.98,131.04 L386.60,132.30 L387.22,133.56 L387.84,134.81 L388.46,136.07 L389.09,137.32 L389.72,138.57 L390.36,139.82 L391.00,141.06 L391.64,142.31 L392.29,143.55 L392.94,144.79 L393.60,146.03 L394.26,147.26 L394.92,148.50 L395.58,149.74 L396.24,150.97 L396.90,152.20 L397.57,153.44 L398.24,154.67 L398.90,155.90 L399.57,157.13 L400.24,158.37 L400.90,159.60 L401.57,160.83 L402.24,162.07 L402.90,163.30 L403.56,164.54 L404.22,165.78 L404.88,167.01 L405.54,168.26 L406.19,169.50 L406.84,170.74 L407.49,171.99 L408.13,173.23 L408.77,174.48 L409.41,175.73 L410.05,176.99 L410.68,178.24 L411.31,179.49 L411.94,180.75 L412.57,182.01 L413.20,183.26 L413.82,184.52 L414.45,185.78 L415.07,187.04 L415.69,188.31 L416.31,189.57 L416.93,190.83 L417.54,192.09 L418.16,193.36 L418.78,194.62 L419.40,195.88 L420.01,197.14 L420.63,198.41 L421.24,199.67 L421.86,200.93 L422.48,202.20 L423.10,203.46 L423.71,204.72 L424.33,205.98 L424.95,207.24 L425.57,208.50 L426.20,209.76 L426.82,211.01 L427.45,212.27 L428.07,213.53 L428.70,214.78 L429.33,216.03 L429.97,217.28 L430.60,218.53 L431.24,219.78 L431.88,221.03 L432.52,222.27 L433.17,223.51 L433.81,224.75 L434.46,225.99 L435.12,227.23 L435.77,228.47 L436.42,229.70 L437.08,230.94 L437.74,232.17 L438.40,233.41 L439.06,234.64 L439.72,235.87 L440.38,237.10 L441.04,238.34 L441.71,239.57 L442.37,240.80 L443.04,242.03 L443.70,243.26 L444.36,244.49 L445.03,245.72 L445.69,246.95 L446.36,248.19 L447.02,249.42 L447.68,250.65 L448.35,251.88 L449.01,253.12 L449.67,254.35 L450.33,255.59 L450.99,256.83 L451.64,258.07 L452.30,259.31 L452.95,260.55 L453.60,261.79 L454.25,263.04 L454.90,264.28 L455.55,265.53 L456.19,266.78 L456.83,268.03 L457.47,269.29 L458.10,270.55 L458.73,271.80 L459.36,273.07 L459.99,274.33 L460.61,275.60 L461.23,276.87 L461.85,278.14 L462.46,279.41 L463.07,280.69 L463.67,281.97 L464.28,283.25 L464.88,284.54 L465.49,285.82 L466.09,287.10 L466.70,288.37 L467.32,289.65 L467.94,290.91 L468.58,292.18 L469.22,293.43 L469.87,294.68 L470.53,295.91 L471.21,297.14 L471.91,298.35 L472.62,299.56 L473.35,300.74 L474.10,301.92 L474.87,303.07 L475.66,304.21 L476.48,305.34 L477.32,306.44 L478.19,307.52 L479.09,308.58 L480.02,309.62 L480.98,310.64 L481.97,311.63 L482.99,312.59 L484.05,313.52 L485.14,314.41 L486.26,315.25 L487.41,316.05 L488.60,316.80 L489.81,317.48 L491.06,318.10 L492.33,318.66 L493.64,319.14 L494.97,319.54 L496.33,319.87 L497.71,320.14 L499.11,320.36 L500.52,320.53 L501.94,320.68 L503.37,320.80 L504.80,320.90 L506.23,321.00 L507.66,321.10 L509.08,321.21 L510.50,321.32 L511.91,321.43 L513.32,321.53 L514.72,321.64 L516.12,321.75 L517.52,321.85 L518.92,321.95 L520.32,322.05 L521.71,322.14 L523.10,322.22 L524.49,322.30 L525.88,322.36 L527.27,322.42 L528.66,322.47 L530.05,322.50 L531.44,322.53 L532.83,322.54 L534.23,322.54 L535.62,322.54 L537.01,322.53 L538.41,322.52 L539.80,322.50 L541.20,322.49 L542.60,322.48 L544.00,322.47 L545.40,322.47 L546.80,322.48 L548.21,322.49 L549.62,322.52 L551.03,322.57 L552.44,322.62 L553.85,322.70 L555.27,322.79 L556.68,322.91 L558.10,323.05 L559.51,323.23 L560.91,323.45 L562.29,323.72 L563.66,324.04 L565.01,324.42 L566.33,324.87 L567.62,325.40 L568.88,326.00 L570.11,326.67 L571.30,327.42 L572.45,328.22 L573.55,329.09 L574.62,330.01 L575.63,330.98 L576.60,331.99 L577.51,333.03 L578.38,334.12 L579.20,335.23 L579.98,336.38 L580.71,337.55 L581.41,338.75 L582.08,339.97 L582.71,341.22 L583.31,342.48 L583.89,343.76 L584.45,345.05 L584.98,346.36 L585.50,347.68 L586.01,349.01 L586.50,350.34 L586.99,351.68 L587.48,353.02 L587.96,354.36 L588.44,355.69 L588.93,357.02 L589.42,358.35 L589.93,359.66 L590.44,360.97 L590.96,362.27 L591.48,363.57 L592.02,364.86 L592.56,366.14 L593.10,367.43 L593.65,368.71 L594.20,369.98 L594.76,371.26 L595.32,372.53 L595.88,373.80 L596.45,375.07 L597.01,376.35 L597.57,377.62 L598.14,378.90 L598.70,380.17 L599.27,381.46 L599.83,382.74 L600.39,384.03 L600.94,385.33 L601.51,386.62 L602.07,387.91 L602.65,389.20 L603.23,390.49 L603.82,391.77 L604.42,393.05 L605.05,394.31 L605.68,395.57 L606.34,396.81 L607.02,398.04 L607.73,399.26 L608.45,400.45 L609.21,401.63 L610.00,402.79 L610.82,403.93 L611.68,405.05 L612.57,406.14 L613.50,407.20" stroke="#0072b2" stroke-width="1.25"/>
<path d="M368.3,354.5H410.6" stroke="#9400d3" stroke-width="2"/>
<path d="M368.3,370.5H410.6" stroke="#009e73" stroke-width="1"/>
<path d="M368.3,386.5H410.6" stroke="#56b4e9" stroke-width="1"/>
<path d="M368.3,402.5H410.6" stroke="#e69f00" stroke-width="1"/>
<path d="M368.3,418.5H410.6" stroke="#f0e442" stroke-width="1"/>
<path d="M368.3,434.5H410.6" stroke="#0072b2" stroke-width="1"/>
</g>
<rect x="76.5" y="48.5" width="537.0" height="400.0" fill="none" stroke="#000" stroke-width="1"/>
<g font-family="'Liberation Sans', Arial, Helvetica, sans-serif" font-size="16" fill="#000" stroke="#000" stroke-width="0.28" style="font-kerning:none" text-rendering="geometricPrecision">
<text x="66.2" y="51.30" text-anchor="end" letter-spacing="-0.15">266.5</text>
<text x="66.2" y="118.30" text-anchor="end" letter-spacing="-0.15">266.4</text>
<text x="66.2" y="184.70" text-anchor="end" letter-spacing="-0.15">266.3</text>
<text x="66.2" y="251.30" text-anchor="end" letter-spacing="-0.15">266.2</text>
<text x="66.2" y="318.30" text-anchor="end" letter-spacing="-0.15">266.1</text>
<text x="66.2" y="385.30" text-anchor="end" letter-spacing="-0.15">266</text>
<text x="66.2" y="451.30" text-anchor="end" letter-spacing="-0.15">265.9</text>
<text x="78.90" y="466.8" text-anchor="middle">0</text>
<text x="145.90" y="466.8" text-anchor="middle">50</text>
<text x="212.40" y="466.8" text-anchor="middle">100</text>
<text x="279.40" y="466.8" text-anchor="middle">150</text>
<text x="346.40" y="466.8" text-anchor="middle">200</text>
<text x="414.40" y="466.8" text-anchor="middle">250</text>
<text x="481.40" y="466.8" text-anchor="middle">300</text>
<text x="548.40" y="466.8" text-anchor="middle">350</text>
<text x="615.40" y="466.8" text-anchor="middle">400</text>
<text x="344.6" y="26.9" text-anchor="middle">Test Over11S: North-South Transit</text>
<text x="359.9" y="356.90" text-anchor="end" letter-spacing="0.07">Truth</text>
<text x="359.9" y="372.90" text-anchor="end" letter-spacing="0.07">05stepB010</text>
<text x="359.9" y="388.90" text-anchor="end" letter-spacing="0.07">05stepB020</text>
<text x="359.9" y="404.90" text-anchor="end" letter-spacing="0.07">05stepB030</text>
<text x="359.9" y="420.90" text-anchor="end" letter-spacing="0.07">05stepB040</text>
<text x="359.9" y="436.90" text-anchor="end" letter-spacing="0.07">05stepB050</text>
</g>
</svg>
</body></html>
